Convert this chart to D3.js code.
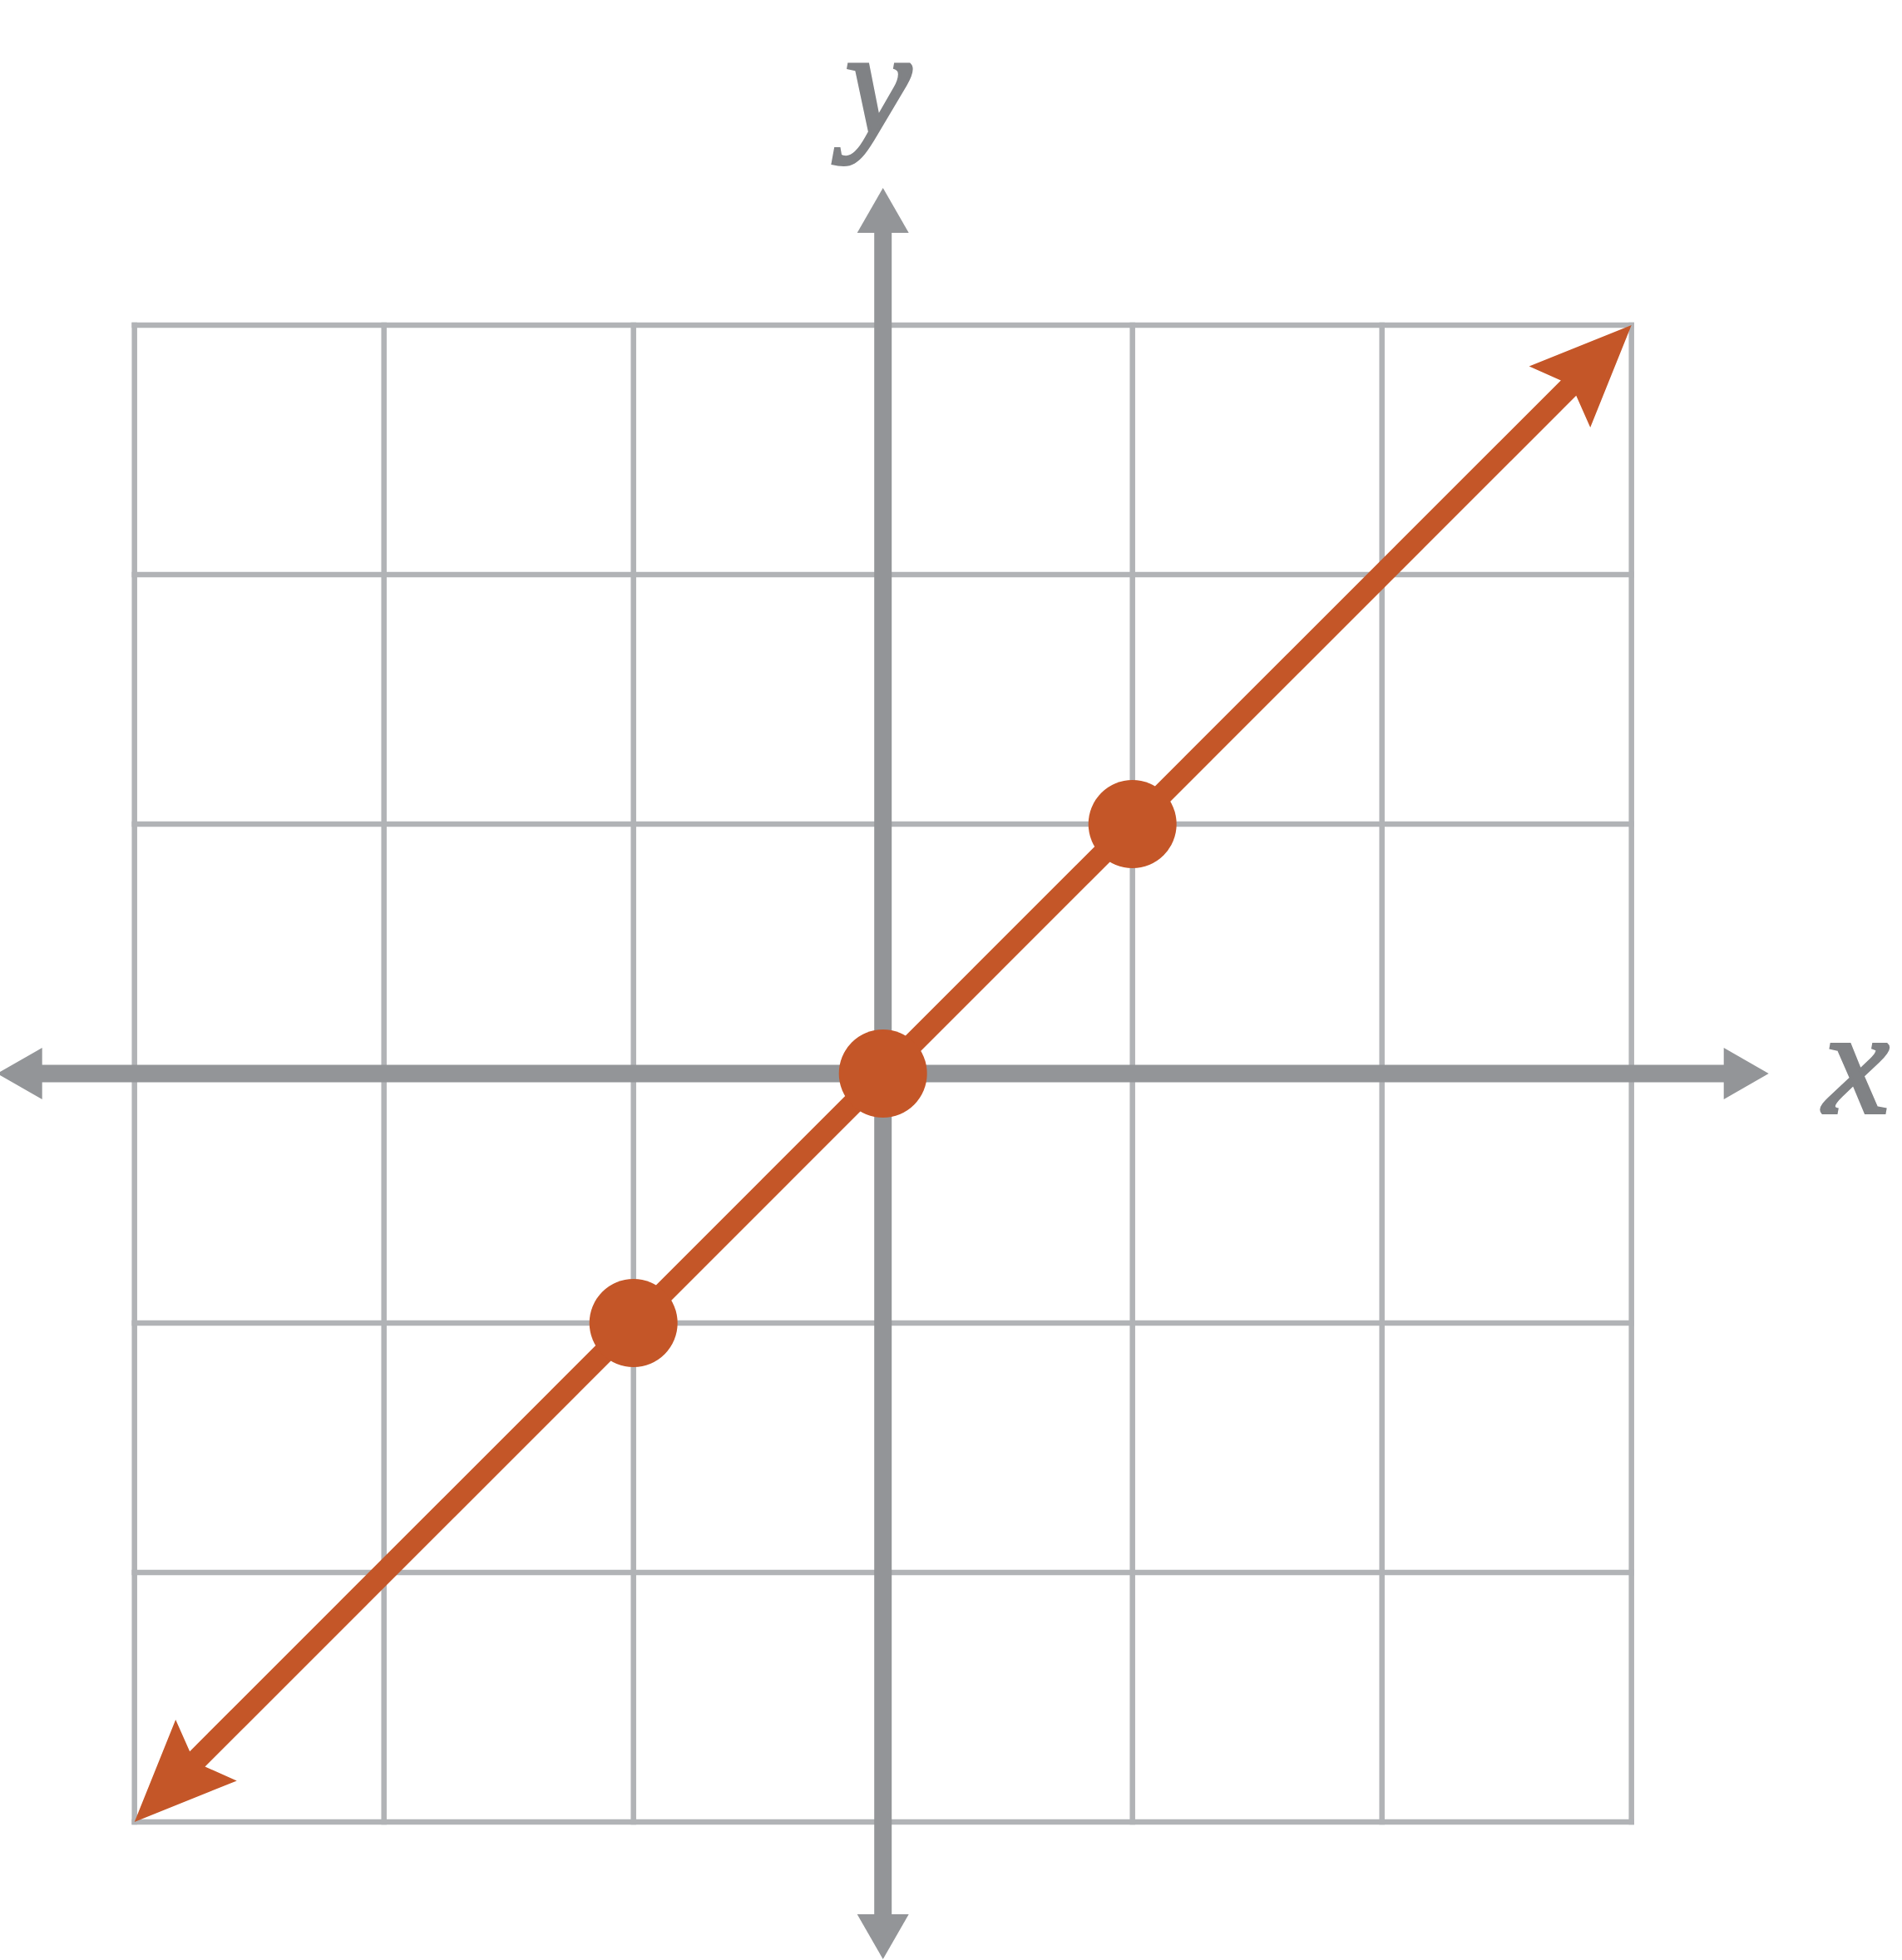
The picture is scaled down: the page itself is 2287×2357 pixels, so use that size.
<!DOCTYPE html>
<meta charset="utf-8">
<html>
<head>
<script src="https://d3js.org/d3.v7.min.js"></script>
<style>
body { margin: 0; background: #fff; }
svg { display: block; }
</style>
</head>
<body>
<div id="chart"></div>
<script>

// grid ticks (data units)
var gridTicks = [-3, -2, -1, 0, 1, 2, 3];
// the plotted line y = x, drawn between these ends
var lineXs = [-3, 3];
// highlighted points on the line
var pointXs = [-1, 0, 1];
var pointYs = [-1, 0, 1];
// how far the axes run past the grid
var axisExtent = 3.55;
var axisLabels = ["x", "y"];

var W = 2287, H = 2357;

var svg = d3.select("#chart")
  .append("svg")
    .attr("width", W)
    .attr("height", H);

var x = d3.scaleLinear().domain([-3, 3]).range([161.7, 1961.7]);
var y = d3.scaleLinear().domain([-3, 3]).range([2191, 391]);

var gridColor = "#b1b3b6",
    axisColor = "#939598",
    lineColor = "#c45628";

// grid
var grid = svg.append("g");
grid.selectAll("line.v")
  .data(gridTicks)
  .enter()
  .append("line")
    .attr("x1", function(d) { return x(d); })
    .attr("x2", function(d) { return x(d); })
    .attr("y1", y(-3))
    .attr("y2", y(3))
    .attr("stroke", gridColor)
    .attr("stroke-width", 6.5)
    .attr("stroke-linecap", "square");
grid.selectAll("line.h")
  .data(gridTicks)
  .enter()
  .append("line")
    .attr("y1", function(d) { return y(d); })
    .attr("y2", function(d) { return y(d); })
    .attr("x1", x(-3))
    .attr("x2", x(3))
    .attr("stroke", gridColor)
    .attr("stroke-width", 6.5)
    .attr("stroke-linecap", "square");

// axes with plain triangle heads
var headLen = 54, headHalf = 31, shaft = 21;

function axisArrow(tx, ty, angle, color) {
  // tip at (tx,ty), pointing along angle (degrees)
  svg.append("path")
    .attr("d", "M0,0 L" + (-headLen) + "," + (-headHalf) + " L" + (-headLen) + "," + headHalf + "Z")
    .attr("transform", "translate(" + tx + "," + ty + ") rotate(" + angle + ")")
    .attr("fill", color);
}

var axes = svg.append("g");
axes.append("line")
  .attr("x1", x(-axisExtent) + headLen - 2)
  .attr("x2", x(axisExtent) - headLen + 2)
  .attr("y1", y(0)).attr("y2", y(0))
  .attr("stroke", axisColor)
  .attr("stroke-width", shaft);
axes.append("line")
  .attr("y1", y(axisExtent) + headLen - 2)
  .attr("y2", y(-axisExtent) - headLen + 2)
  .attr("x1", x(0)).attr("x2", x(0))
  .attr("stroke", axisColor)
  .attr("stroke-width", shaft);

axisArrow(x(axisExtent), y(0), 0, axisColor);
axisArrow(x(-axisExtent), y(0), 180, axisColor);
axisArrow(x(0), y(axisExtent), -90, axisColor);
axisArrow(x(0), y(-axisExtent), 90, axisColor);

// axis labels
function axisLabel(tx, ty, t) {
  svg.append("text")
    .attr("x", tx)
    .attr("y", ty)
    .attr("text-anchor", "middle")
    .attr("font-family", "Liberation Serif, Times New Roman, serif")
    .attr("font-style", "italic")
    .attr("font-size", 178)
    .attr("fill", "#808285")
    .attr("stroke", "#808285")
    .attr("stroke-width", 4)
    .text(t);
}
axisLabel(2232, 1338, axisLabels[0]);
axisLabel(1056, 160, axisLabels[1]);

// the red line y = x with notched arrow heads at both ends
var lw = 26, aLen = 122, aHalf = 52, notch = 107;

function lineArrow(tx, ty, angle) {
  var d = "M0,0 L" + (-aLen) + "," + (-aHalf) +
          " L" + (-notch) + "," + (-lw / 2) +
          " L" + (-notch) + "," + (lw / 2) +
          " L" + (-aLen) + "," + aHalf + "Z";
  svg.append("path")
    .attr("d", d)
    .attr("transform", "translate(" + tx + "," + ty + ") rotate(" + angle + ")")
    .attr("fill", lineColor);
}

var x0 = x(lineXs[0]), y0 = y(lineXs[0]),
    x1 = x(lineXs[1]), y1 = y(lineXs[1]);
var ang = Math.atan2(y1 - y0, x1 - x0);
var back = notch - 12;

svg.append("line")
  .attr("x1", x0 + Math.cos(ang) * back)
  .attr("y1", y0 + Math.sin(ang) * back)
  .attr("x2", x1 - Math.cos(ang) * back)
  .attr("y2", y1 - Math.sin(ang) * back)
  .attr("stroke", lineColor)
  .attr("stroke-width", lw);

lineArrow(x1, y1, ang * 180 / Math.PI);
lineArrow(x0, y0, ang * 180 / Math.PI + 180);

// points
svg.append("g")
  .selectAll("circle")
  .data(pointXs)
  .enter()
  .append("circle")
    .attr("cx", function(d) { return x(d); })
    .attr("cy", function(d, i) { return y(pointYs[i]); })
    .attr("r", 53)
    .attr("fill", lineColor);

</script>
</body>
</html>
